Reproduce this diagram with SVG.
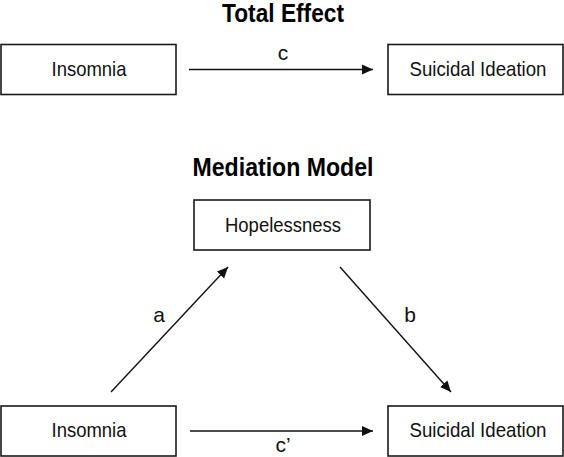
<svg xmlns="http://www.w3.org/2000/svg" width="564" height="457" viewBox="0 0 564 457">
<style>
.box{fill:#fff;stroke:#1a1a1a;stroke-width:1.6}
.lbl{font-family:"Liberation Sans",Arial,sans-serif;font-size:21px;fill:#111;text-anchor:middle}
.ttl{font-family:"Liberation Sans",Arial,sans-serif;font-size:25px;font-weight:bold;fill:#000;text-anchor:middle}
.edge{stroke:#111;stroke-width:1.4;fill:none;marker-end:url(#ah)}
</style>
<defs>
<marker id="ah" viewBox="0 0 10 10" refX="10" refY="5" markerWidth="11" markerHeight="11" markerUnits="userSpaceOnUse" orient="auto">
<path d="M0,0.5 L10,5 L0,9.5 Z" fill="#111"/>
</marker>
</defs>
<rect width="564" height="457" fill="#fff"/>
<text class="ttl" x="283" y="22" textLength="122" lengthAdjust="spacingAndGlyphs">Total Effect</text>
<text class="ttl" x="283" y="176" textLength="181" lengthAdjust="spacingAndGlyphs">Mediation Model</text>
<g id="insomnia-top"><rect class="box" x="1" y="44.5" width="175" height="50"/><text class="lbl" x="89" y="76" textLength="75" lengthAdjust="spacingAndGlyphs">Insomnia</text></g>
<g id="si-top"><rect class="box" x="388" y="44.5" width="175" height="50"/><text class="lbl" x="478" y="76" textLength="137" lengthAdjust="spacingAndGlyphs">Suicidal Ideation</text></g>
<g id="hopelessness"><rect class="box" x="194" y="200" width="176" height="50"/><text class="lbl" x="283" y="232" textLength="116" lengthAdjust="spacingAndGlyphs">Hopelessness</text></g>
<g id="insomnia-bottom"><rect class="box" x="1" y="406" width="175" height="50"/><text class="lbl" x="89" y="437" textLength="75" lengthAdjust="spacingAndGlyphs">Insomnia</text></g>
<g id="si-bottom"><rect class="box" x="388" y="406" width="175" height="50"/><text class="lbl" x="478" y="437" textLength="137" lengthAdjust="spacingAndGlyphs">Suicidal Ideation</text></g>
<g id="connectors">
<line class="edge" x1="189" y1="69.5" x2="373" y2="69.5"/>
<text class="lbl" x="283" y="60">c</text>
<line class="edge" x1="111" y1="392" x2="228" y2="267"/>
<text class="lbl" x="159" y="322">a</text>
<line class="edge" x1="340" y1="267" x2="451" y2="392"/>
<text class="lbl" x="410" y="322">b</text>
<line class="edge" x1="190" y1="431" x2="373" y2="431"/>
<text class="lbl" x="283" y="452">c’</text>
</g>
</svg>
